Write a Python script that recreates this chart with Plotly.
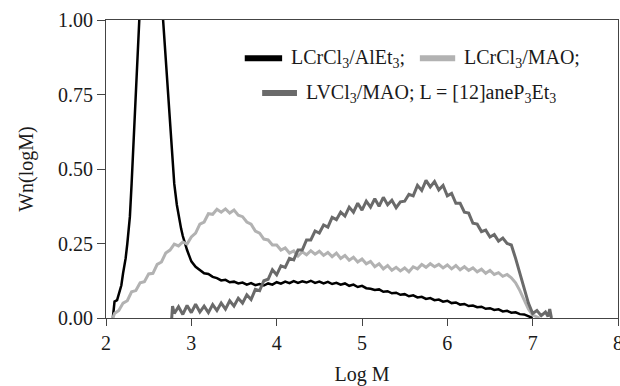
import plotly.graph_objects as go

# LCrCl3/AlEt3
x_black = [2.08, 2.09, 2.10, 2.13, 2.15, 2.18, 2.20, 2.23, 2.25, 2.28, 2.30, 2.33, 2.35, 2.38, 2.40,
           2.45, 2.50, 2.55, 2.60, 2.65, 2.68, 2.70, 2.73, 2.75, 2.78, 2.80, 2.83, 2.85, 2.88, 2.90,
           2.93, 2.95, 2.98, 3.00, 3.05, 3.10, 3.15, 3.20, 3.25, 3.30, 3.35, 3.40, 3.45, 3.50, 3.55,
           3.60, 3.65, 3.70, 3.75, 3.80, 3.85, 3.90, 3.95, 4.00, 4.05, 4.10, 4.15, 4.20, 4.25, 4.30,
           4.35, 4.40, 4.45, 4.50, 4.55, 4.60, 4.65, 4.70, 4.75, 4.80, 4.85, 4.90, 4.95, 5.00, 5.05,
           5.10, 5.15, 5.20, 5.25, 5.30, 5.35, 5.40, 5.45, 5.50, 5.55, 5.60, 5.65, 5.70, 5.75, 5.80,
           5.85, 5.90, 5.95, 6.00, 6.05, 6.10, 6.15, 6.20, 6.25, 6.30, 6.35, 6.40, 6.45, 6.50, 6.55,
           6.60, 6.65, 6.70, 6.75, 6.80, 6.85, 6.90, 6.95, 6.98, 7.00]
y_black = [0.000, 0.030, 0.055, 0.060, 0.080, 0.110, 0.150, 0.200, 0.250, 0.340, 0.450, 0.650, 0.780, 0.930, 1.060,
           1.300, 1.450, 1.450, 1.300, 1.080, 0.960, 0.880, 0.760, 0.660, 0.540, 0.450, 0.380, 0.345, 0.300, 0.275,
           0.245, 0.228, 0.205, 0.190, 0.172, 0.162, 0.150, 0.148, 0.138, 0.134, 0.126, 0.128, 0.120, 0.122, 0.116,
           0.119, 0.112, 0.117, 0.110, 0.114, 0.109, 0.116, 0.112, 0.120, 0.115, 0.122, 0.117, 0.124, 0.118, 0.123,
           0.119, 0.125, 0.118, 0.122, 0.116, 0.121, 0.114, 0.118, 0.112, 0.116, 0.108, 0.112, 0.104, 0.108, 0.100,
           0.098, 0.094, 0.096, 0.088, 0.090, 0.083, 0.085, 0.078, 0.080, 0.073, 0.076, 0.069, 0.071, 0.064, 0.067,
           0.060, 0.062, 0.055, 0.058, 0.050, 0.052, 0.045, 0.047, 0.040, 0.042, 0.036, 0.038, 0.031, 0.033, 0.027,
           0.029, 0.022, 0.024, 0.018, 0.019, 0.013, 0.012, 0.007, 0.003, 0.000]

# LCrCl3/MAO
x_light = [2.08, 2.10, 2.15, 2.20, 2.25, 2.30, 2.35, 2.40, 2.45, 2.50, 2.55, 2.60, 2.65, 2.70, 2.75,
           2.80, 2.85, 2.90, 2.95, 3.00, 3.05, 3.10, 3.15, 3.20, 3.25, 3.30, 3.35, 3.40, 3.45, 3.50,
           3.55, 3.60, 3.65, 3.70, 3.75, 3.80, 3.85, 3.90, 3.95, 4.00, 4.05, 4.10, 4.15, 4.20, 4.25,
           4.30, 4.35, 4.40, 4.45, 4.50, 4.55, 4.60, 4.65, 4.70, 4.75, 4.80, 4.85, 4.90, 4.95, 5.00,
           5.05, 5.10, 5.15, 5.20, 5.25, 5.30, 5.35, 5.40, 5.45, 5.50, 5.55, 5.60, 5.65, 5.70, 5.75,
           5.80, 5.85, 5.90, 5.95, 6.00, 6.05, 6.10, 6.15, 6.20, 6.25, 6.30, 6.35, 6.40, 6.45, 6.50,
           6.55, 6.60, 6.65, 6.70, 6.75, 6.80, 6.85, 6.90, 6.95, 7.00, 7.05, 7.08]
y_light = [0.000, 0.015, 0.025, 0.050, 0.058, 0.088, 0.092, 0.118, 0.122, 0.148, 0.150, 0.180, 0.188, 0.218, 0.228,
           0.248, 0.242, 0.255, 0.248, 0.272, 0.285, 0.315, 0.322, 0.350, 0.348, 0.365, 0.355, 0.366, 0.352, 0.362,
           0.345, 0.340, 0.322, 0.315, 0.292, 0.285, 0.265, 0.262, 0.245, 0.245, 0.228, 0.235, 0.218, 0.225, 0.208,
           0.222, 0.212, 0.226, 0.214, 0.224, 0.210, 0.220, 0.206, 0.218, 0.200, 0.210, 0.194, 0.204, 0.188, 0.198,
           0.182, 0.190, 0.172, 0.182, 0.165, 0.176, 0.160, 0.170, 0.158, 0.168, 0.155, 0.172, 0.165, 0.180, 0.170,
           0.182, 0.172, 0.180, 0.168, 0.178, 0.165, 0.176, 0.162, 0.172, 0.160, 0.168, 0.155, 0.164, 0.150, 0.160,
           0.146, 0.152, 0.140, 0.146, 0.135, 0.118, 0.092, 0.060, 0.030, 0.010, 0.002, 0.000]

# LVCl3/MAO
x_dark = [2.77, 2.78, 2.80, 2.85, 2.90, 2.95, 3.00, 3.05, 3.10, 3.15, 3.20, 3.25, 3.30, 3.35, 3.40,
          3.45, 3.50, 3.55, 3.60, 3.65, 3.70, 3.75, 3.80, 3.85, 3.90, 3.95, 4.00, 4.05, 4.10, 4.15,
          4.20, 4.25, 4.30, 4.35, 4.40, 4.45, 4.50, 4.55, 4.60, 4.65, 4.70, 4.75, 4.80, 4.85, 4.90,
          4.95, 5.00, 5.05, 5.10, 5.15, 5.20, 5.25, 5.30, 5.35, 5.40, 5.45, 5.50, 5.55, 5.60, 5.65,
          5.70, 5.75, 5.80, 5.85, 5.90, 5.95, 6.00, 6.05, 6.10, 6.15, 6.20, 6.25, 6.30, 6.35, 6.40,
          6.45, 6.50, 6.55, 6.60, 6.65, 6.70, 6.75, 6.80, 6.85, 6.90, 6.95, 7.00, 7.05, 7.10, 7.15,
          7.18, 7.20, 7.22]
y_dark = [0.000, 0.040, 0.015, 0.038, 0.012, 0.042, 0.018, 0.046, 0.020, 0.040, 0.018, 0.045, 0.025, 0.050, 0.030,
          0.058, 0.040, 0.066, 0.050, 0.078, 0.062, 0.096, 0.092, 0.125, 0.130, 0.162, 0.145, 0.175, 0.170, 0.200,
          0.195, 0.228, 0.228, 0.262, 0.262, 0.292, 0.285, 0.312, 0.305, 0.338, 0.330, 0.355, 0.342, 0.372, 0.355,
          0.385, 0.362, 0.392, 0.372, 0.400, 0.375, 0.405, 0.380, 0.395, 0.370, 0.390, 0.392, 0.415, 0.410, 0.445,
          0.428, 0.462, 0.440, 0.458, 0.430, 0.445, 0.410, 0.418, 0.385, 0.385, 0.355, 0.352, 0.318, 0.315, 0.290,
          0.295, 0.272, 0.280, 0.258, 0.268, 0.250, 0.245, 0.200, 0.150, 0.100, 0.050, 0.015, 0.025, 0.008, 0.020,
          0.005, 0.030, 0.000]

x_ticks = [2, 3, 4, 5, 6, 7, 8]
y_ticks = [0.0, 0.25, 0.5, 0.75, 1.0]

series = [
    ("LCrCl<sub>3</sub>/AlEt<sub>3</sub>;", x_black, y_black, "#000000", 2.5),
    ("LCrCl<sub>3</sub>/MAO;", x_light, y_light, "#b2b2b2", 3),
    ("LVCl<sub>3</sub>/MAO; L = [12]aneP<sub>3</sub>Et<sub>3</sub>", x_dark, y_dark, "#6a6a6a", 3),
]

FONT = "Liberation Serif, Times New Roman, serif"
fig = go.Figure()
for name, xs, ys, col, w in series:
    fig.add_trace(go.Scatter(x=xs, y=ys, mode="lines", name=name,
                             line=dict(color=col, width=w), showlegend=False))

# legend drawn as annotations + swatches (paper coords)
legend_items = [
    (0.271, 0.344, 0.872, series[0][0], series[0][3]),
    (0.613, 0.682, 0.872, series[1][0], series[1][3]),
    (0.305, 0.373, 0.755, series[2][0], series[2][3]),
]
for x0, x1, yy, txt, col in legend_items:
    fig.add_shape(type="line", xref="paper", yref="paper", x0=x0, x1=x1, y0=yy, y1=yy,
                  line=dict(color=col, width=6))
    fig.add_annotation(xref="paper", yref="paper", x=x1 + 0.014, y=yy, text=txt,
                       showarrow=False, xanchor="left", yanchor="middle",
                       font=dict(family=FONT, size=20, color="#1a1a1a"))

axis_common = dict(showgrid=False, zeroline=False, showline=True, linecolor="#444444",
                   linewidth=1.2, mirror=True, ticks="outside", tickcolor="#444444",
                   automargin=False, ticklabeloverflow="allow",
                   tickfont=dict(family=FONT, size=20, color="#1a1a1a"))
fig.update_xaxes(range=[2, 8], tickvals=x_ticks, ticklen=7,
                 title=dict(text="Log M", font=dict(family=FONT, size=20, color="#1a1a1a"), standoff=18),
                 **axis_common)
fig.update_yaxes(range=[0, 1], tickvals=y_ticks, tickformat=".2f", ticklen=8,
                 title=dict(text="Wn(logM)", font=dict(family=FONT, size=20, color="#1a1a1a"), standoff=18),
                 **axis_common)
fig.update_layout(width=620, height=386, margin=dict(l=106, r=2, t=20, b=68),
                  plot_bgcolor="white", paper_bgcolor="white", showlegend=False)
fig.write_html("out.html", config={"displayModeBar": False},
               post_script="document.body.style.margin='0px';document.body.style.overflow='hidden';")
